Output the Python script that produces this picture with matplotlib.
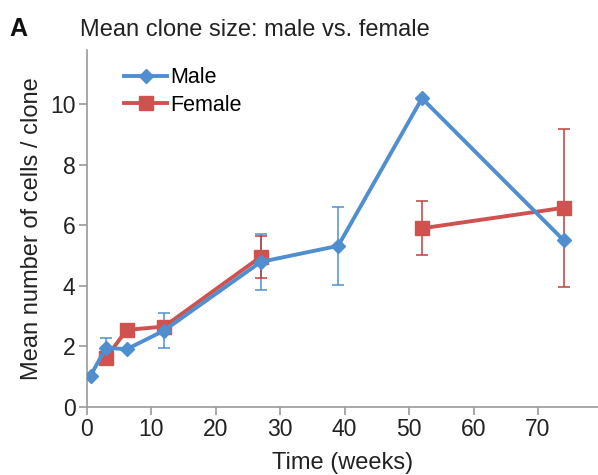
import matplotlib
matplotlib.use('Agg')
import matplotlib.pyplot as plt

plt.rcParams['font.family'] = ['Liberation Sans', 'DejaVu Sans']

# Male series (weeks, mean cells/clone, error)
male_weeks = [0.6, 3, 6.2, 12, 27, 39, 52, 74]
male_mean = [1.03, 1.95, 1.90, 2.52, 4.79, 5.32, 10.2, 5.50]
male_err = [0, 0.33, 0, 0.58, 0.93, 1.28, 0, 0]

# Female series
female_weeks = [3, 6.2, 12, 27]
female_mean = [1.62, 2.54, 2.65, 4.96]
female_err = [0, 0, 0, 0.69]
female_late_weeks = [52, 74]
female_late_mean = [5.90, 6.58]
female_late_err = [0.89, 2.62]

blue = '#4F8FCF'
red = '#D0524F'

fig = plt.figure(figsize=(5.98, 4.75), dpi=100)
ax = fig.add_axes([0.145, 0.1438, 0.855, 0.751])

# Error bars first
ax.errorbar(male_weeks, male_mean, yerr=male_err, fmt='none', ecolor=blue,
            elinewidth=1.1, capsize=4, capthick=1.1, zorder=2)
ax.errorbar(female_weeks, female_mean, yerr=female_err, fmt='none', ecolor='#C03E3C',
            elinewidth=1.1, capsize=4, capthick=1.1, zorder=2)
ax.errorbar(female_late_weeks, female_late_mean, yerr=female_late_err, fmt='none',
            ecolor='#C03E3C', elinewidth=1.1, capsize=4, capthick=1.1, zorder=2)

# Lines with markers
ax.plot(female_weeks, female_mean, color=red, lw=2.8, marker='s', ms=10,
        label='Female', zorder=3)
ax.plot(female_late_weeks, female_late_mean, color=red, lw=2.8, marker='s', ms=10, zorder=3)
ax.plot(male_weeks, male_mean, color=blue, lw=2.8, marker='D', ms=7, label='Male', zorder=4)

ax.set_xlim(0, 79.3)
ax.set_ylim(0, 11.8)
ax.set_xticks(range(0, 80, 10))
ax.set_yticks(range(0, 12, 2))

for side in ['top', 'right']:
    ax.spines[side].set_visible(False)
for side in ['left', 'bottom']:
    ax.spines[side].set_color('#9A9A9A')
    ax.spines[side].set_linewidth(1.2)
ax.tick_params(colors='#9A9A9A', labelcolor='#222222', labelsize=16.5, length=6,
               width=1.2, pad=2)

ax.set_xlabel('Time (weeks)', fontsize=17, color='#222222', labelpad=8)
ax.set_ylabel('Mean number of cells / clone', fontsize=17, color='#222222', labelpad=5)

handles, labels = ax.get_legend_handles_labels()
ax.legend([handles[1], handles[0]], [labels[1], labels[0]], loc='upper left',
          bbox_to_anchor=(0.04, 1.0), frameon=False, fontsize=15.5, handlelength=2.0,
          handletextpad=0.15, labelspacing=0.3, borderpad=0.3)

fig.text(0.015, 0.925, 'A', fontsize=18, fontweight='bold', color='#111111')
fig.text(0.134, 0.925, 'Mean clone size: male vs. female', fontsize=17, color='#222222')

fig.savefig('out.png', dpi=100)
